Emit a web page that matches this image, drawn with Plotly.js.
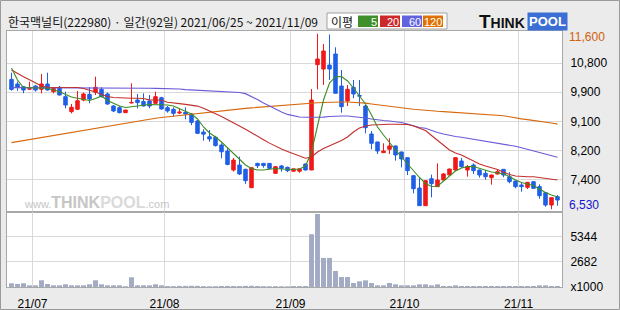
<!DOCTYPE html>
<html><head><meta charset="utf-8">
<script src="https://cdn.plot.ly/plotly-3.0.1.min.js"></script>
<style>html,body{margin:0;padding:0;background:#ebebeb;}#chart{width:620px;height:310px;}</style>
</head><body><div id="chart"></div>
<script>
// ---- data ----
const openP = [10282,10146,10070,10000,10090,9995,10148,9926,10053,9782,9348,9418,9686,9850,9908,9995,9860,9513,9465,9320,9600,9686,9640,9657,9590,9753,9465,9417,9310,9330,9280,9080,8760,8625,8610,8385,8210,7663,7807,7683,7153,7855,7855,7855,7566,7780,7740,7629,7629,7837,7663,10707,10582,10697,11015,10090,9658,10053,9815,9513,8704,8473,8165,8262,8358,8184,8020,7500,7143,6633,7413,7182,7374,7519,7663,7923,7663,7808,7663,7567,7442,7548,7683,7470,7345,7230,7163,7326,7182,7008,6652,6893];
const highP = [10475,10220,10090,10216,10110,10437,10475,10030,10090,9926,9570,9946,9900,10053,10360,10053,9900,9540,9513,9397,10168,9860,9880,9830,9926,9780,9513,9475,9446,9475,9310,9110,8840,8820,8650,8435,8290,8012,8050,7700,7730,7870,7860,7860,7770,7808,7760,7700,7697,7850,10004,11600,11304,11580,11209,10553,10120,10264,10264,9542,8790,8480,8435,8580,8370,8190,8030,7510,7433,7355,7530,7856,7577,7700,8030,8012,7808,7856,7670,7663,7530,7663,7690,7600,7350,7300,7320,7340,7250,7020,6870,6940];
const lowP = [9955,9951,9880,9990,9930,9880,9960,9878,9820,9446,9300,9400,9650,9590,9830,9760,9550,9340,9300,9310,9590,9446,9500,9446,9580,9410,9320,9200,9280,9130,8960,8700,8510,8480,8340,8000,7800,7620,7520,7260,7153,7720,7730,7700,7560,7615,7600,7620,7585,7650,7663,9995,10120,10264,9880,9320,9513,9735,9513,8723,8262,8126,8160,8126,7933,7740,7519,6990,6633,6633,6873,7180,7370,7510,7650,7730,7470,7548,7442,7380,7240,7540,7456,7280,7134,7037,7115,7120,6832,6600,6530,6633];
const closeP = [9993,10060,9975,10010,9975,10148,9975,10024,9830,9542,9475,9666,9860,9715,10053,9782,9570,9369,9320,9397,9615,9610,9513,9513,9782,9427,9369,9300,9335,9280,9040,8723,8700,8560,8370,8190,7825,7950,7548,7355,7730,7788,7790,7710,7760,7710,7644,7697,7697,7663,9686,10871,11101,10582,9880,9493,9995,9860,9800,8886,8435,8213,8213,8358,8098,7981,7644,7124,6633,7355,7268,7374,7548,7692,8020,7760,7760,7644,7519,7470,7519,7615,7519,7326,7182,7182,7307,7134,6921,6652,6864,6796];
const volume = [400,320,400,180,180,720,320,180,180,290,180,180,180,290,720,290,180,180,180,80,1040,180,180,180,290,180,100,90,120,120,130,120,90,80,90,110,120,110,100,120,130,110,90,80,90,80,70,100,100,110,5640,7800,3106,3106,1714,1071,1071,428,607,714,428,178,178,428,286,178,178,178,286,286,178,286,107,107,178,107,107,107,107,107,107,107,107,107,107,107,107,107,178,178,107,107];
const ma5 = [10611,10264,10047,10033,10033,10033,10024,9975,9932,9845,9773,9735,9701,9672,9730,9802,9672,9585,9513,9469,9484,9513,9533,9556,9556,9542,9542,9513,9441,9369,9282,9138,8906,8733,8617,8473,8300,8140,7981,7808,7707,7663,7663,7678,7707,7692,7684,7678,7692,7779,8184,8964,9686,10177,10359,10365,10235,10033,9802,9571,9253,8906,8675,8444,8242,8039,7837,7635,7447,7274,7187,7196,7346,7505,7635,7722,7760,7765,7713,7649,7606,7586,7548,7476,7375,7303,7259,7216,7115,7014,6941,6884];
const ma20 = [10553,10446,10360,10270,10177,10090,10053,10053,10053,10053,10053,10047,10018,9975,9917,9845,9787,9758,9744,9735,9735,9735,9729,9690,9686,9680,9620,9591,9580,9560,9540,9510,9450,9380,9290,9210,9120,9040,8950,8840,8740,8650,8540,8440,8350,8270,8200,8130,8060,8005,8040,8184,8285,8357,8429,8516,8617,8762,8877,8935,8964,8978,8984,8984,8984,8984,8978,8935,8877,8805,8660,8516,8372,8241,8155,8097,8010,7923,7837,7779,7731,7678,7606,7534,7490,7470,7470,7470,7447,7418,7389,7375];
const ma60 = [10045,10045,10040,10040,10040,10040,10040,10040,10040,10040,10040,10040,10040,10040,10040,10040,10040,10040,10040,10035,10035,10030,10030,10025,10023,10020,10015,10010,10004,9985,9975,9975,9961,9940,9926,9926,9917,9909,9903,9870,9790,9700,9600,9510,9420,9340,9270,9225,9195,9186,9186,9186,9190,9209,9224,9224,9224,9209,9186,9166,9137,9108,9094,9079,9060,9036,8993,8935,8892,8868,8805,8747,8704,8660,8631,8608,8580,8551,8530,8501,8473,8444,8415,8386,8349,8308,8262,8213,8169,8118,8069,8030];
const ma120 = [8455,8485,8515,8545,8570,8600,8630,8660,8690,8720,8750,8775,8805,8835,8865,8895,8925,8955,8985,9015,9040,9070,9100,9130,9160,9180,9200,9220,9240,9260,9280,9300,9320,9340,9360,9380,9395,9410,9430,9445,9460,9475,9490,9500,9510,9520,9530,9545,9560,9575,9590,9605,9615,9625,9630,9630,9630,9625,9610,9595,9570,9545,9525,9505,9485,9465,9440,9420,9400,9385,9370,9360,9350,9340,9330,9320,9310,9300,9290,9280,9265,9250,9230,9200,9160,9140,9120,9100,9080,9050,9020,8990];
const monthTickIdx = [3.5, 25.5, 46.5, 65.5, 84.5];
const monthTickText = ['21/07', '21/08', '21/09', '21/10', '21/11'];
const priceTickVals = [10755, 9910, 9065, 8220, 7375];
const priceTickText = ['10,800', '9,900', '9,100', '8,200', '7,400'];
const priceMaxLabel = '11,600', priceMaxVal = 11600;
const priceMinLabel = '6,530', priceMinVal = 6530;
const volTickVals = [0, 2682, 5344];
const volTickText = ['x1000', '2682', '5344'];
const titleText = '한국맥널티(222980) · 일간(92일) 2021/06/25 ~ 2021/11/09';
const maLabels = ['5', '20', '60', '120'];

// ---- styling ----
const RED = '#f01818', BLUE = '#1f5fe6';
const MA_COLORS = ['#3c8c22', '#c0302c', '#6a5ad8', '#d8680c'];
const BOX_COLORS = ['#3f8f2a', '#cc2a2a', '#6262e0', '#e07000'];
const GRID = '#d9d9d9', FRAME = '#a8a8a8';
const days = openP.map((_, i) => i);
const PX = x => (x - 7) / 555;
const PY = y => (287 - y) / 256;
const FONT = 'Liberation Sans, Noto Sans CJK KR, sans-serif';
const KFONT = 'Noto Sans CJK KR, Liberation Sans, sans-serif';

const traces = [
  {type: 'candlestick', x: days, open: openP, high: highP, low: lowP, close: closeP,
   xaxis: 'x', yaxis: 'y', whiskerwidth: 0, hoverinfo: 'skip',
   increasing: {line: {color: RED, width: 1}, fillcolor: RED},
   decreasing: {line: {color: BLUE, width: 1}, fillcolor: BLUE}},
  {type: 'scatter', mode: 'lines', x: days, y: ma120, yaxis: 'y', line: {color: MA_COLORS[3], width: 1.1}, hoverinfo: 'skip'},
  {type: 'scatter', mode: 'lines', x: days, y: ma60, yaxis: 'y', line: {color: MA_COLORS[2], width: 1.1}, hoverinfo: 'skip'},
  {type: 'scatter', mode: 'lines', x: days, y: ma20, yaxis: 'y', line: {color: MA_COLORS[1], width: 1.1}, hoverinfo: 'skip'},
  {type: 'scatter', mode: 'lines', x: days, y: ma5, yaxis: 'y', line: {color: MA_COLORS[0], width: 1.1}, hoverinfo: 'skip'},
  {type: 'bar', x: days, y: volume, yaxis: 'y2', width: 0.82, marker: {color: '#a3abc4', line: {width: 0}}, hoverinfo: 'skip'}
];

const shapes = [
  {type: 'rect', xref: 'paper', yref: 'paper', x0: PX(0.5), x1: PX(619.5), y0: PY(309.5), y1: PY(0.5), line: {color: '#9a9a9a', width: 1}},
  {type: 'rect', xref: 'paper', yref: 'paper', x0: PX(327), x1: PX(447), y0: PY(29), y1: PY(13), fillcolor: '#ffffff', line: {color: '#a0a0a0', width: 1}}
];
const boxX = [[358, 378], [380, 400], [402, 422], [423, 443]];
const annotations = [
  {xref: 'paper', yref: 'paper', x: PX(6), y: PY(21.5), xanchor: 'left', yanchor: 'middle', showarrow: false,
   text: titleText, font: {family: KFONT, size: 12, color: '#111'}},
  {xref: 'paper', yref: 'paper', x: PX(342), y: PY(21), xanchor: 'center', yanchor: 'middle', showarrow: false,
   text: '이평', font: {family: KFONT, size: 12, color: '#111'}},
  {xref: 'paper', yref: 'y', x: 1, y: priceMaxVal, xanchor: 'left', yanchor: 'middle', xshift: 5, yshift: -3, showarrow: false,
   text: priceMaxLabel, font: {family: FONT, size: 12, color: '#d2600c'}},
  {xref: 'paper', yref: 'y', x: 1, y: priceMinVal, xanchor: 'left', yanchor: 'middle', xshift: 5, yshift: 4, showarrow: false,
   text: priceMinLabel, font: {family: FONT, size: 12, color: '#1414d2'}},
  {xref: 'paper', yref: 'paper', x: PX(527), y: PY(21.5), xanchor: 'right', yanchor: 'middle', showarrow: false,
   text: "<b>T<span style='font-size:14px'>HINK</span></b>", font: {family: FONT, size: 19, color: '#111'}},
  {xref: 'paper', yref: 'paper', x: PX(527), y: PY(21.5), xanchor: 'left', yanchor: 'middle', showarrow: false,
   text: '<b>POOL</b>', bgcolor: '#3c6fd6', borderpad: 1, font: {family: FONT, size: 13, color: '#ffffff'}},
  {xref: 'paper', yref: 'paper', x: PX(22), y: PY(202), xanchor: 'left', yanchor: 'middle', showarrow: false,
   text: "<span style='font-size:11px'>www.</span><b>THINK</b><b><span style='color:#dadada'>POOL</span></b><span style='font-size:11px'>.com</span>",
   font: {family: FONT, size: 16, color: '#c6c6c6'}}
];
maLabels.forEach((t, k) => {
  shapes.push({type: 'rect', xref: 'paper', yref: 'paper', x0: PX(boxX[k][0]), x1: PX(boxX[k][1]), y0: PY(27), y1: PY(15.5),
    fillcolor: BOX_COLORS[k], line: {width: 0}});
  annotations.push({xref: 'paper', yref: 'paper', x: PX(boxX[k][1]), y: PY(21.5), xanchor: 'right', yanchor: 'middle',
    showarrow: false, borderpad: 0, text: t, font: {family: FONT, size: 11, color: '#ffffff'}});
});

const layout = {
  width: 620, height: 310,
  margin: {l: 7, r: 58, t: 31, b: 23, pad: 0},
  paper_bgcolor: '#ebebeb', plot_bgcolor: '#ffffff',
  showlegend: false, hovermode: false, dragmode: false,
  boxgap: 0.17,
  font: {family: FONT, size: 12, color: '#000'},
  xaxis: {range: [-0.75, 91.75], anchor: 'y2', tickvals: monthTickIdx, ticktext: monthTickText,
    showgrid: true, gridcolor: GRID, gridwidth: 1, zeroline: false, ticks: '',
    showline: true, linecolor: FRAME, linewidth: 1, mirror: 'all',
    tickfont: {family: FONT, size: 12, color: '#000'}, ticklabelstandoff: 6,
    rangeslider: {visible: false}, fixedrange: true},
  yaxis: {domain: [0.293, 1], range: [6450, 11680], side: 'right', tickvals: priceTickVals, ticktext: priceTickText,
    showgrid: true, gridcolor: GRID, zeroline: false, ticks: '', showline: true, linecolor: FRAME, linewidth: 1, mirror: true,
    tickfont: {family: FONT, size: 12, color: '#000'}, ticklabelstandoff: 5, fixedrange: true},
  yaxis2: {domain: [0, 0.293], range: [0, 8016], side: 'right', tickvals: volTickVals, ticktext: volTickText,
    showgrid: true, gridcolor: GRID, zeroline: false, ticks: '', showline: true, linecolor: FRAME, linewidth: 1, mirror: true,
    tickfont: {family: FONT, size: 12, color: '#000'}, ticklabelstandoff: 5, fixedrange: true},
  shapes: shapes,
  annotations: annotations
};

Plotly.newPlot('chart', traces, layout, {staticPlot: true, displayModeBar: false});
</script>
</body></html>
